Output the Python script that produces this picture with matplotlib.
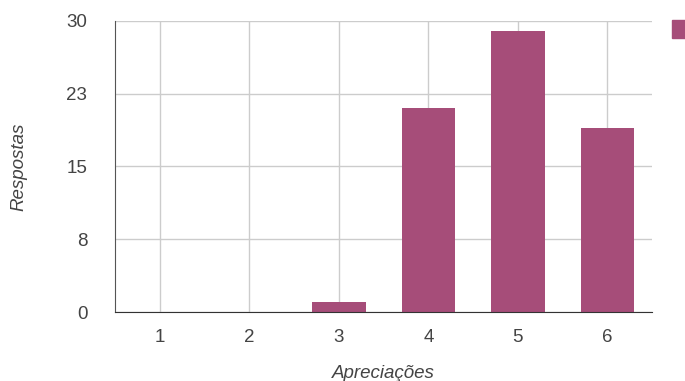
import matplotlib.pyplot as plt
from matplotlib.patches import Rectangle

# Data
categories = ["1", "2", "3", "4", "5", "6"]
respostas = [0, 0, 1, 21, 29, 19]
y_ticks = [0, 7.5, 15, 22.5, 30]
y_tick_labels = ["0", "8", "15", "23", "30"]

bar_color = "#a64d79"
text_color = "#444444"

plt.rcParams["font.family"] = ["Liberation Sans", "DejaVu Sans"]

fig = plt.figure(figsize=(6.85, 3.81), dpi=100)
ax = fig.add_axes([0.168, 0.181, 0.784, 0.764])

x = list(range(1, len(categories) + 1))
ax.bar(x, respostas, width=0.6, color=bar_color, zorder=3)

ax.set_xlim(0.5, 6.5)
ax.set_ylim(0, 30)
ax.set_xticks(x)
ax.set_xticklabels(categories)
ax.set_yticks(y_ticks)
ax.set_yticklabels(y_tick_labels)

ax.grid(True, color="#cccccc", linewidth=1, zorder=0)
ax.tick_params(length=0, labelsize=13.5, labelcolor=text_color)
ax.tick_params(axis="y", pad=20)
ax.tick_params(axis="x", pad=12)

for side in ["top", "right"]:
    ax.spines[side].set_visible(False)
ax.spines["left"].set_color("#555555")
ax.spines["bottom"].set_color("#333333")
ax.spines["left"].set_zorder(4)
ax.spines["bottom"].set_zorder(4)

ax.set_ylabel("Respostas", fontsize=13.5, style="italic", color=text_color, labelpad=28)
ax.set_xlabel("Apreciações", fontsize=13.5, style="italic", color=text_color, labelpad=14)

# legend square, cut off at the right edge
fig.patches.append(Rectangle((672 / 685, 1 - 38 / 381), 16 / 685, 18 / 381,
                             transform=fig.transFigure, color=bar_color))

fig.savefig("out.png", dpi=100)
